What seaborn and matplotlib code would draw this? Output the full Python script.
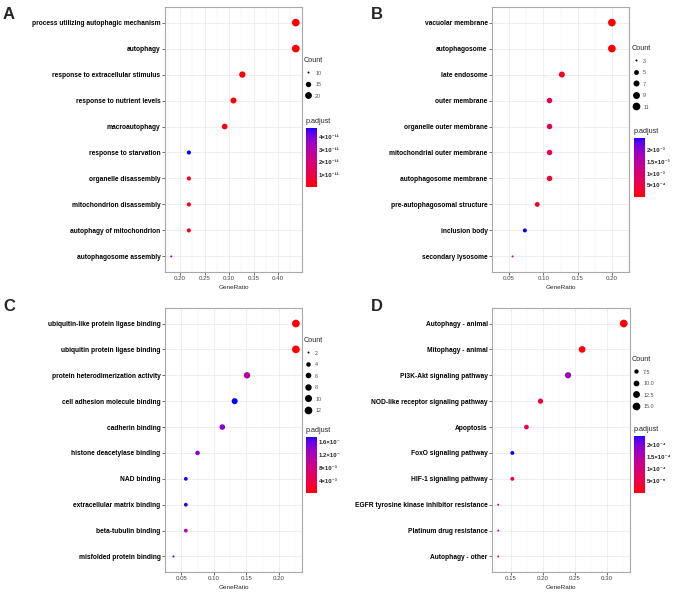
import numpy as np
import pandas as pd
import seaborn as sns
import matplotlib
matplotlib.use('Agg')
from matplotlib import pyplot as plt
from matplotlib.colors import ListedColormap, Normalize
from matplotlib.cm import ScalarMappable
from matplotlib.lines import Line2D
from matplotlib.transforms import Bbox


# A - GO biological process
a_terms = ['process utilizing autophagic mechanism', 'autophagy', 'response to extracellular stimulus',
           'response to nutrient levels', 'macroautophagy', 'response to starvation',
           'organelle disassembly', 'mitochondrion disassembly', 'autophagy of mitochondrion',
           'autophagosome assembly']
a_ratio = [0.436, 0.436, 0.327, 0.309, 0.291, 0.218, 0.218, 0.218, 0.218, 0.182]
a_count = [24, 24, 18, 17, 16, 12, 12, 12, 12, 10]
a_padj = [1e-15, 2e-15, 3e-13, 6e-13, 1.2e-12, 4.76e-11, 2.5e-12, 2.5e-12, 2.5e-12, 4.2e-11]
a_size_breaks = [10, 15, 20]
a_cb_ticks = [1e-11, 2e-11, 3e-11, 4e-11]
a_cb_labels = ['1×10⁻¹¹', '2×10⁻¹¹', '3×10⁻¹¹', '4×10⁻¹¹']

# B - GO cellular component
b_terms = ['vacuolar membrane', 'autophagosome', 'late endosome', 'outer membrane',
           'organelle outer membrane', 'mitochondrial outer membrane', 'autophagosome membrane',
           'pre-autophagosomal structure', 'inclusion body', 'secondary lysosome']
b_ratio = [0.200, 0.200, 0.127, 0.109, 0.109, 0.109, 0.109, 0.091, 0.073, 0.055]
b_count = [11, 11, 7, 6, 6, 6, 6, 5, 4, 3]
b_padj = [2e-6, 3e-6, 2.5e-4, 7e-4, 7e-4, 6e-4, 3.5e-4, 3e-4, 2.53e-3, 8e-4]
b_size_breaks = [3, 5, 7, 9, 11]
b_cb_ticks = [5e-4, 1e-3, 1.5e-3, 2e-3]
b_cb_labels = ['5×10⁻⁴', '1×10⁻³', '1.5×10⁻³', '2×10⁻³']

# C - GO molecular function
c_terms = ['ubiquitin-like protein ligase binding', 'ubiquitin protein ligase binding',
           'protein heterodimerization activity', 'cell adhesion molecule binding', 'cadherin binding',
           'histone deacetylase binding', 'NAD binding', 'extracellular matrix binding',
           'beta-tubulin binding', 'misfolded protein binding']
c_ratio = [0.226, 0.226, 0.151, 0.132, 0.113, 0.075, 0.057, 0.057, 0.057, 0.038]
c_count = [12, 12, 8, 7, 6, 4, 3, 3, 3, 2]
c_padj = [2e-4, 2e-4, 1.1e-2, 1.75e-2, 1.4e-2, 1.4e-2, 1.72e-2, 1.72e-2, 1.1e-2, 1.7e-2]
c_size_breaks = [2, 4, 6, 8, 10, 12]
c_cb_ticks = [4e-3, 8e-3, 1.2e-2, 1.6e-2]
c_cb_labels = ['4×10⁻³', '8×10⁻³', '1.2×10⁻²', '1.6×10⁻²']

# D - KEGG
d_terms = ['Autophagy - animal', 'Mitophagy - animal', 'PI3K-Akt signaling pathway',
           'NOD-like receptor signaling pathway', 'Apoptosis', 'FoxO signaling pathway',
           'HIF-1 signaling pathway', 'EGFR tyrosine kinase inhibitor resistance',
           'Platinum drug resistance', 'Autophagy - other']
d_ratio = [0.326, 0.261, 0.239, 0.196, 0.174, 0.152, 0.152, 0.130, 0.130, 0.130]
d_count = [15, 12, 11, 9, 8, 7, 7, 6, 6, 6]
d_padj = [1e-7, 4e-6, 1.7e-4, 5e-5, 6e-5, 2.38e-4, 6e-5, 1.15e-4, 1.1e-4, 8e-5]
d_size_breaks = [7.5, 10, 12.5, 15]
d_size_labels = ['7.5', '10.0', '12.5', '15.0']
d_cb_ticks = [5e-5, 1e-4, 1.5e-4, 2e-4]
d_cb_labels = ['5×10⁻⁵', '1×10⁻⁴', '1.5×10⁻⁴', '2×10⁻⁴']

W, H = 677, 595


def fx(x):
    return x / W


def fy(y):
    return 1 - y / H


def px(x0, y0, x1, y1):
    return [x0 / W, 1 - y1 / H, (x1 - x0) / W, (y1 - y0) / H]


def lab2rgb(L, a, b):
    fy_ = (L + 16) / 116
    fx_ = fy_ + a / 500
    fz_ = fy_ - b / 200

    def finv(t):
        return np.where(t > 6 / 29, t ** 3, 3 * (6 / 29) ** 2 * (t - 4 / 29))
    X = 0.95047 * finv(fx_)
    Y = finv(fy_)
    Z = 1.08883 * finv(fz_)
    M = np.array([[3.2406, -1.5372, -0.4986], [-0.9689, 1.8758, 0.0415], [0.0557, -0.2040, 1.0570]])
    rgb = M @ np.vstack([X, Y, Z])
    rgb = np.clip(rgb, 0, 1)
    rgb = np.where(rgb > 0.0031308, 1.055 * rgb ** (1 / 2.4) - 0.055, 12.92 * rgb)
    return np.clip(rgb.T, 0, 1)


# red -> blue gradient in Lab space (like ggplot's scale_color_continuous(low='red', high='blue'))
t = np.linspace(0, 1, 256)
red_lab = np.array([53.24, 80.09, 67.20])
blue_lab = np.array([32.30, 79.19, -107.86])
lab = red_lab[None, :] * (1 - t[:, None]) + blue_lab[None, :] * t[:, None]
cmap = ListedColormap(lab2rgb(lab[:, 0], lab[:, 1], lab[:, 2]))


def dot_size(c, cmin, cmax):
    tt = (np.asarray(c, dtype=float) - cmin) / (cmax - cmin)
    d_px = 2.0 + 5.7 * np.sqrt(np.clip(tt, 0, 1))
    return (d_px * 0.72) ** 2


sns.set_style('white')
plt.rcParams['font.family'] = ['Liberation Sans', 'DejaVu Sans']

fig = plt.figure(figsize=(6.77, 5.95), dpi=100)

panels = [
    dict(letter='A', terms=a_terms, ratio=a_ratio, count=a_count, padj=a_padj,
         breaks=a_size_breaks, blabels=[str(v) for v in a_size_breaks],
         cbt=a_cb_ticks, cbl=a_cb_labels, xt=[0.20, 0.25, 0.30, 0.35, 0.40],
         ax=(165, 7, 302, 272), let=(3, 19), leg=(304, 57), cb=(306, 128, 317, 187), clipx=340),
    dict(letter='B', terms=b_terms, ratio=b_ratio, count=b_count, padj=b_padj,
         breaks=b_size_breaks, blabels=[str(v) for v in b_size_breaks],
         cbt=b_cb_ticks, cbl=b_cb_labels, xt=[0.05, 0.10, 0.15, 0.20],
         ax=(492, 7, 629, 272), let=(371, 19), leg=(632, 45), cb=(634, 138, 645, 197), clipx=677),
    dict(letter='C', terms=c_terms, ratio=c_ratio, count=c_count, padj=c_padj,
         breaks=c_size_breaks, blabels=[str(v) for v in c_size_breaks],
         cbt=c_cb_ticks, cbl=c_cb_labels, xt=[0.05, 0.10, 0.15, 0.20],
         ax=(165, 308, 302, 572), let=(3, 311), leg=(304, 337), cb=(306, 437, 317, 493), clipx=340),
    dict(letter='D', terms=d_terms, ratio=d_ratio, count=d_count, padj=d_padj,
         breaks=d_size_breaks, blabels=d_size_labels,
         cbt=d_cb_ticks, cbl=d_cb_labels, xt=[0.15, 0.20, 0.25, 0.30],
         ax=(492, 308, 630, 572), let=(371, 311), leg=(632, 356), cb=(634, 436, 645, 493), clipx=677),
]

for p in panels:
    df = pd.DataFrame({'term': p['terms'], 'GeneRatio': p['ratio'], 'Count': p['count'],
                       'p.adjust': p['padj']})
    cmin, cmax = df['Count'].min(), df['Count'].max()
    norm = Normalize(df['p.adjust'].min(), df['p.adjust'].max())
    size_map = {c: float(dot_size(c, cmin, cmax)) for c in df['Count'].unique()}

    x0, y0, x1, y1 = p['ax']
    ax = fig.add_axes(px(x0, y0, x1, y1))
    ax.set_axisbelow(True)
    sns.scatterplot(data=df, x='GeneRatio', y='term', hue='p.adjust', palette=cmap, hue_norm=norm,
                    size='Count', sizes=size_map, linewidth=0, legend=False, ax=ax, zorder=3)

    lo, hi = df['GeneRatio'].min(), df['GeneRatio'].max()
    span = hi - lo
    ax.set_xlim(lo - 0.05 * span, hi + 0.05 * span)
    ax.set_ylim(len(df) - 0.4, -0.6)
    ax.set_xticks(p['xt'])
    ax.set_xticklabels(['%.2f' % v for v in p['xt']])
    step = p['xt'][1] - p['xt'][0]
    minor = [p['xt'][0] - step / 2] + [v + step / 2 for v in p['xt']]
    ax.set_xticks(minor, minor=True)
    ax.grid(True, which='major', color='#EBEBEB', lw=0.55)
    ax.grid(True, which='minor', axis='x', color='#F2F2F2', lw=0.35)
    ax.tick_params(axis='x', which='minor', length=0)
    ax.tick_params(axis='both', which='major', length=2, width=0.5, color='#333333', pad=1.2,
                   left=True, bottom=True)
    ax.tick_params(axis='x', labelsize=4.4, labelcolor='#444444')
    ax.tick_params(axis='y', labelsize=4.8, labelcolor='black')
    for lbl in ax.get_yticklabels():
        lbl.set_fontweight('bold')
    ax.set_ylabel('')
    ax.set_xlabel('GeneRatio', fontsize=4.6, labelpad=2.5)
    for s in ax.spines.values():
        s.set_color('#A8A8A8')
        s.set_linewidth(0.8)

    fig.text(fx(p['let'][0]), fy(p['let'][1]), p['letter'], fontsize=12, fontweight='bold',
             ha='left', va='baseline')

    # size legend
    handles = [Line2D([], [], ls='', marker='o', color='black', markeredgewidth=0,
                      markersize=float(np.sqrt(dot_size(b, cmin, cmax)))) for b in p['breaks']]
    fig.legend(handles, p['blabels'], title='Count', loc='upper left',
               bbox_to_anchor=(fx(p['leg'][0]), fy(p['leg'][1])), frameon=False,
               fontsize=3.9, title_fontsize=5.2, labelcolor='#4D4D4D', handletextpad=0.45,
               labelspacing=1.15, borderpad=0, borderaxespad=0, handlelength=1.6,
               handleheight=1.0, alignment='left')

    # colorbar
    c0, c1_, c2, c3 = p['cb']
    cax = fig.add_axes(px(c0, c1_, c2, c3))
    cb = fig.colorbar(ScalarMappable(norm=norm, cmap=cmap), cax=cax)
    cb.outline.set_visible(False)
    cb.set_ticks(p['cbt'])
    cb.set_ticklabels(p['cbl'])
    cax.minorticks_off()
    cax.tick_params(axis='y', length=2.2, width=0.5, color='white', direction='in', pad=1.5,
                    labelsize=4.3, left=True, right=True)
    clip = Bbox.from_extents(0, 0, p['clipx'] * fig.dpi / 100, fig.bbox.height)
    for lbl in cax.get_yticklabels():
        lbl.set_fontweight('bold')
        lbl.set_clip_box(clip)
        lbl.set_clip_on(True)
    fig.text(fx(c0), fy(c1_ - 3), 'p.adjust', fontsize=5.2, ha='left', va='bottom')

fig.savefig('out.png', dpi=100)
